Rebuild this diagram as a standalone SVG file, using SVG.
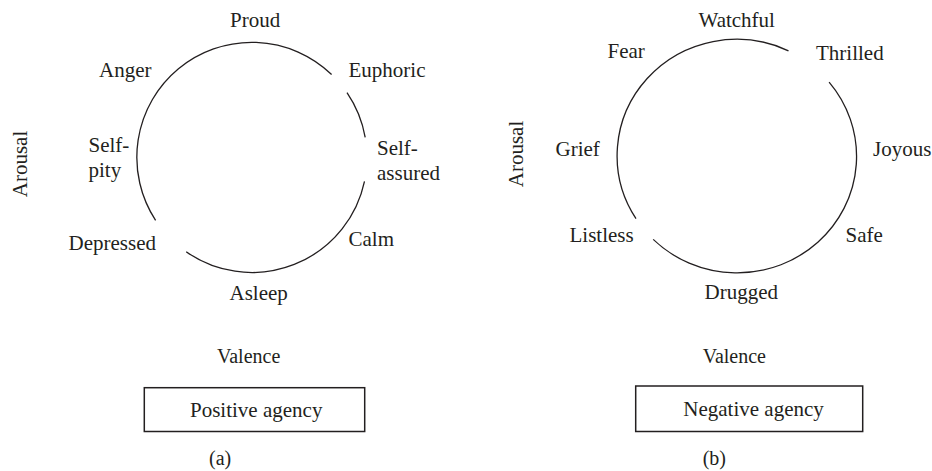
<svg xmlns="http://www.w3.org/2000/svg" width="932" height="471" viewBox="0 0 932 471">
<style>
text{font-family:"Liberation Serif","Times New Roman",serif;font-size:21px;fill:#231f20}
.s{font-size:20px}
.arc{fill:none;stroke:#231f20;stroke-width:1.3}
.box{fill:#fff;stroke:#231f20;stroke-width:1.5}
</style>
<rect width="932" height="471" fill="#fff"/>
<g id="connectors">
<path class="arc" d="M347,92.7 A115,115 0 0 1 365.2,137.4"/>
<path class="arc" d="M364.5,181.4 A115,115 0 0 1 186.2,251.8"/>
<path class="arc" d="M155.6,220.3 A115,115 0 0 1 331.6,74.5"/>
<path class="arc" d="M829.1,82.1 A119.5,116.5 0 0 1 653.2,239.4"/>
<path class="arc" d="M636,218.6 A119.5,116.5 0 0 1 788.5,50.8"/>
</g>
<g id="panel-a">
<g id="a-proud"><text x="230" y="27">Proud</text></g>
<g id="a-euphoric"><text x="348.5" y="77">Euphoric</text></g>
<g id="a-anger"><text x="99" y="77">Anger</text></g>
<g id="a-selfpity"><text x="88.5" y="152">Self-</text><text x="88.5" y="177">pity</text></g>
<g id="a-selfassured"><text x="377" y="154.5">Self-</text><text x="377" y="180">assured</text></g>
<g id="a-depressed"><text x="68.5" y="250">Depressed</text></g>
<g id="a-calm"><text x="348.5" y="246">Calm</text></g>
<g id="a-asleep"><text x="229.5" y="300">Asleep</text></g>
<g id="a-arousal"><text transform="translate(26.5,164) rotate(-90)" text-anchor="middle">Arousal</text></g>
<g id="a-valence"><text class="s" x="217" y="362.5">Valence</text></g>
<g id="a-box"><rect class="box" x="144.3" y="387.7" width="220.4" height="43.8"/><text x="190" y="417">Positive agency</text></g>
<g id="a-label"><text class="s" x="209" y="465">(a)</text></g>
</g>
<g id="panel-b">
<g id="b-watchful"><text x="698.5" y="27">Watchful</text></g>
<g id="b-fear"><text x="607.5" y="57.5">Fear</text></g>
<g id="b-thrilled"><text x="816" y="60">Thrilled</text></g>
<g id="b-grief"><text x="555.5" y="156">Grief</text></g>
<g id="b-joyous"><text x="873" y="156">Joyous</text></g>
<g id="b-listless"><text x="569.5" y="242">Listless</text></g>
<g id="b-safe"><text x="845.5" y="242">Safe</text></g>
<g id="b-drugged"><text x="704.5" y="299">Drugged</text></g>
<g id="b-arousal"><text transform="translate(523,154) rotate(-90)" text-anchor="middle">Arousal</text></g>
<g id="b-valence"><text class="s" x="702.7" y="363">Valence</text></g>
<g id="b-box"><rect class="box" x="635.7" y="386" width="227" height="45.5"/><text x="683.3" y="415.5">Negative agency</text></g>
<g id="b-label"><text class="s" x="702.7" y="465">(b)</text></g>
</g>
</svg>
